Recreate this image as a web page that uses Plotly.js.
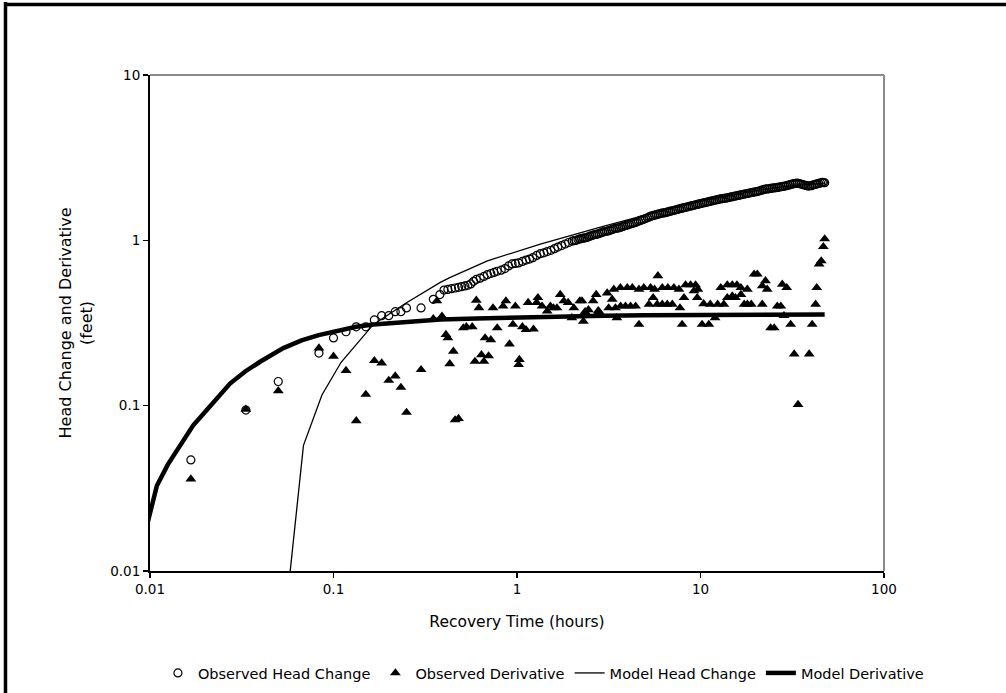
<!DOCTYPE html>
<html>
<head>
<meta charset="utf-8">
<script src="https://cdn.plot.ly/plotly-3.0.1.min.js"></script>
<style>html,body{margin:0;padding:0;background:#fff;}#chart{width:1006px;height:693px;}</style>
</head>
<body>
<div id="chart"></div>
<script>
// Observed head change (circles)
const obsHeadTime = [0.0167,0.0333,0.05,0.0833,0.1,0.117,0.133,0.15,0.167,0.183,0.2,0.217,0.233,0.25,0.3,0.35,0.38,
  0.4,0.42,0.44,0.46,0.48,0.5,0.52,0.54,0.56,0.58,0.6,0.63,0.66,0.69,0.72,0.75,0.78,0.82,0.86,0.9,0.94,0.98,
  1.02,1.07,1.12,1.17,1.22,1.28,1.34,1.4,1.46,1.53,1.6,1.67,1.75,1.83,1.91,2.0,2.1,2.2,2.3,2.4,2.5,2.62,2.74,2.87,
  3.0,3.14,3.28,3.43,3.59,3.75,3.92,4.1,4.29,4.49,4.7,4.91,5.14,5.37,5.62,5.88,6.15,6.43,6.72,7.03,7.35,7.69,
  8.04,8.41,8.8,9.2,9.62,10.06,10.52,11.0,11.5,12.03,12.58,13.16,13.76,14.39,15.05,15.74,16.46,17.21,18.0,18.83,
  19.69,20.59,21.53,22.52,23.55,24.63,25.76,26.94,28.17,29.46,30.81,32.22,33.7,35.24,36.85,38.54,40.3,42.15,
  44.08,46.1,47.5,
  2.05,2.15,2.25,2.35,2.45,2.56,2.68,2.8,2.93,3.07,3.21,3.35,3.51,3.67,3.83,4.01,4.19,4.39,4.59,4.8,5.02,5.25,5.5,
  5.75,6.01,6.29,6.57,6.87,7.19,7.52,7.86,8.22,8.6,9.0,9.41,9.84,10.29,10.76,11.25,11.76,12.3,12.87,13.46,14.07,
  14.72,15.39,16.1,16.83,17.6,18.41,19.26,20.14,21.06,22.02,23.03,24.09,25.19,26.35,27.55,28.81,30.13,31.51,32.96,
  34.47,36.04,37.69,39.42,41.22,43.11,45.09,46.8];
const obsHeadValue = [0.047,0.094,0.140,0.208,0.257,0.28,0.30,0.30,0.33,0.35,0.35,0.37,0.37,0.39,0.39,0.44,0.47,
  0.50,0.505,0.51,0.515,0.52,0.525,0.53,0.535,0.545,0.565,0.58,0.59,0.605,0.62,0.63,0.64,0.65,0.66,0.675,0.70,0.72,0.725,
  0.73,0.745,0.76,0.77,0.785,0.81,0.83,0.84,0.855,0.87,0.89,0.91,0.93,0.95,0.97,0.99,1.0,1.02,1.03,1.04,1.06,1.08,1.09,1.11,
  1.13,1.14,1.16,1.18,1.19,1.21,1.23,1.25,1.27,1.29,1.32,1.34,1.37,1.40,1.42,1.44,1.46,1.47,1.49,1.51,1.53,1.55,
  1.57,1.59,1.61,1.63,1.65,1.67,1.69,1.71,1.73,1.75,1.77,1.79,1.80,1.82,1.84,1.86,1.88,1.90,1.92,1.94,
  1.96,1.98,2.01,2.04,2.05,2.07,2.08,2.10,2.12,2.14,2.17,2.20,2.22,2.19,2.16,2.13,2.14,2.18,
  2.21,2.24,2.23,
  0.995,1.01,1.025,1.035,1.05,1.07,1.085,1.10,1.12,1.135,1.15,1.17,1.185,1.20,1.22,1.24,1.26,1.28,1.305,1.33,1.355,1.385,1.41,
  1.43,1.45,1.465,1.48,1.50,1.52,1.54,1.56,1.58,1.60,1.62,1.64,1.66,1.68,1.70,1.72,1.74,1.76,1.78,1.795,1.81,
  1.83,1.85,1.87,1.89,1.91,1.93,1.95,1.97,1.995,2.025,2.045,2.06,2.075,2.09,2.11,2.13,2.155,2.185,2.21,
  2.205,2.175,2.145,2.135,2.165,2.195,2.225,2.235];

// Observed derivative (triangles)
const obsDerivTime = [0.0167,0.0333,0.05,0.0833,0.1,0.117,0.133,0.15,0.167,0.183,0.2,0.217,0.233,0.25,0.3,0.35,0.366,
  0.39,0.41,0.42,0.43,0.45,0.46,0.48,0.51,0.53,0.57,0.59,0.6,0.62,0.64,0.66,0.67,0.7,0.72,0.74,0.78,0.84,0.87,0.91,
  0.95,0.98,1.02,1.03,1.07,1.12,1.15,1.23,1.28,1.30,1.37,1.46,1.52,1.58,1.65,1.72,1.80,1.90,1.99,2.04,2.2,2.26,2.3,
  2.35,2.45,2.6,2.7,2.77,2.8,3.10,3.16,3.30,3.37,3.44,3.5,3.66,3.67,3.90,3.99,4.16,4.25,4.43,4.62,4.62,4.91,5.24,
  5.35,5.52,5.62,5.81,5.86,6.19,6.19,6.59,6.64,7.02,7.16,7.63,7.73,7.94,8.13,8.29,8.83,9.21,9.40,9.60,9.68,10.2,
  10.4,11.1,11.3,12.0,12.4,12.9,13.4,14.0,14.0,14.9,14.9,15.5,15.8,16.6,16.6,17.3,18.0,18.0,18.9,19.6,20.4,21.7,
  21.7,22.6,23.1,24.1,25.2,26.2,27.4,27.9,28.5,29.5,31.0,32.4,34.0,39.1,40.6,42.4,43.0,44.3,45.5,46.7,47.5];
const obsDerivValue = [0.036,0.095,0.123,0.223,0.199,0.163,0.081,0.117,0.187,0.181,0.142,0.151,0.129,0.091,0.165,0.336,0.43,
  0.348,0.269,0.257,0.179,0.213,0.082,0.0835,0.295,0.30,0.30,0.185,0.434,0.391,0.203,0.185,0.257,0.20,0.25,0.39,0.295,0.40,0.43,0.236,
  0.31,0.40,0.177,0.19,0.30,0.288,0.42,0.29,0.42,0.45,0.40,0.373,0.40,0.39,0.39,0.47,0.43,0.42,0.34,0.39,0.43,0.43,0.324,
  0.37,0.38,0.43,0.47,0.375,0.37,0.48,0.39,0.44,0.506,0.39,0.34,0.517,0.40,0.40,0.517,0.40,0.517,0.40,0.506,0.31,0.517,0.41,
  0.517,0.45,0.506,0.41,0.61,0.517,0.41,0.41,0.517,0.41,0.517,0.506,0.39,0.31,0.45,0.537,0.537,0.494,0.537,0.45,0.506,0.31,
  0.413,0.31,0.41,0.34,0.41,0.517,0.41,0.537,0.45,0.537,0.46,0.45,0.537,0.517,0.47,0.41,0.506,0.41,0.41,0.624,0.624,0.53,
  0.41,0.569,0.506,0.295,0.295,0.40,0.40,0.542,0.35,0.517,0.31,0.205,0.1016,0.205,0.31,0.41,0.517,0.718,0.75,0.916,1.02];

// Model head change (thin line)
const modelHeadTime = [0.0578,0.0686,0.0865,0.11,0.165,0.25,0.38,0.43,0.69,1.34,2.85,5.0,10.0,20.0,30.0,47.5];
const modelHeadValue = [0.0095,0.0575,0.116,0.183,0.31,0.419,0.555,0.595,0.751,0.95,1.2,1.42,1.72,2.0,2.13,2.22];

// Model derivative (thick line)
const modelDerivTime = [0.0097,0.0109,0.0125,0.0143,0.0172,0.02,0.0233,0.0273,0.033,0.04,0.0533,0.067,0.083,0.1087,0.133,
  0.165,0.25,0.382,0.6,1,2,3,5,10,20,47.5];
const modelDerivValue = [0.0195,0.0328,0.044,0.056,0.076,0.092,0.112,0.136,0.161,0.185,0.223,0.248,0.267,0.288,0.300,
  0.31,0.322,0.332,0.337,0.342,0.347,0.350,0.352,0.353,0.355,0.356];

const xTickVals = [0.01,0.1,1,10,100];
const xTickText = ['0.01','0.1','1','10','100'];
const yTickVals = [0.01,0.1,1,10];
const yTickText = ['0.01','0.1','1','10'];

const FONT = 'DejaVu Sans, Verdana, sans-serif';

const traces = [
  {x: obsHeadTime, y: obsHeadValue, name: 'Observed Head Change', type: 'scatter', mode: 'markers',
   marker: {symbol: 'circle-open', size: 8, color: '#000', line: {color: '#000', width: 1.2}}},
  {x: obsDerivTime, y: obsDerivValue, name: 'Observed Derivative', type: 'scatter', mode: 'markers',
   marker: {symbol: 'triangle-up', size: 9.5, color: '#000'}},
  {x: modelHeadTime, y: modelHeadValue, name: 'Model Head Change', type: 'scatter', mode: 'lines',
   line: {color: '#000', width: 1.3}},
  {x: modelDerivTime, y: modelDerivValue, name: 'Model Derivative', type: 'scatter', mode: 'lines',
   line: {color: '#000', width: 4.5}}
];

const FW = 1006, FH = 693;
const L = 150, R = 884, T = 75, B = 571;
const W = R - L, H = B - T;
const px = v => (v - L) / W;
const py = v => (B - v) / H;

const layout = {
  width: FW, height: FH,
  margin: {l: L, r: FW - R, t: T, b: FH - B, pad: 0, autoexpand: false},
  paper_bgcolor: '#fff', plot_bgcolor: '#fff',
  font: {family: FONT, color: '#000', size: 14},
  showlegend: true,
  legend: {orientation: 'h', x: -0.0001, xanchor: 'left', y: py(673), yanchor: 'middle',
           borderwidth: 8, bordercolor: 'rgba(0,0,0,0)',
           font: {family: FONT, size: 14.5, color: '#000'}, bgcolor: 'rgba(0,0,0,0)', itemwidth: 30, tracegroupgap: 0},
  xaxis: {type: 'log', range: [-2, 2], showgrid: false, zeroline: false, automargin: false,
          showline: true, linecolor: '#000', linewidth: 2, mirror: false,
          ticks: 'outside', ticklen: 5, tickwidth: 1.5, tickcolor: '#000',
          tickvals: xTickVals, ticktext: xTickText,
          tickfont: {family: FONT, size: 13.5, color: '#000'},
          title: {text: 'Recovery Time (hours)', font: {family: FONT, size: 15.5, color: '#000'}, standoff: 20}},
  yaxis: {type: 'log', range: [-2, 1], showgrid: false, zeroline: false, automargin: false,
          showline: true, linecolor: '#000', linewidth: 2, mirror: false,
          ticks: 'outside', ticklen: 5, tickwidth: 1.5, tickcolor: '#000',
          tickvals: yTickVals, ticktext: yTickText,
          tickfont: {family: FONT, size: 13.5, color: '#000'},
          title: {text: 'Head Change and Derivative<br>(feet)', font: {family: FONT, size: 16, color: '#000'}, standoff: 14}},
  shapes: [
    {type: 'line', xref: 'paper', yref: 'paper', x0: 0, x1: 1, y0: 1, y1: 1, line: {color: '#8a8a8a', width: 2}},
    {type: 'line', xref: 'paper', yref: 'paper', x0: 1, x1: 1, y0: 0, y1: 1, line: {color: '#8a8a8a', width: 2}},
    {type: 'line', xref: 'paper', yref: 'paper', x0: px(5.5), x1: px(5.5), y0: py(2), y1: py(700), line: {color: '#000', width: 3.5}},
    {type: 'line', xref: 'paper', yref: 'paper', x0: px(4), x1: px(1012), y0: py(4.5), y1: py(4.5), line: {color: '#000', width: 3.5}}
  ]
};

Plotly.newPlot('chart', traces, layout, {displayModeBar: false, staticPlot: true});
</script>
</body>
</html>
